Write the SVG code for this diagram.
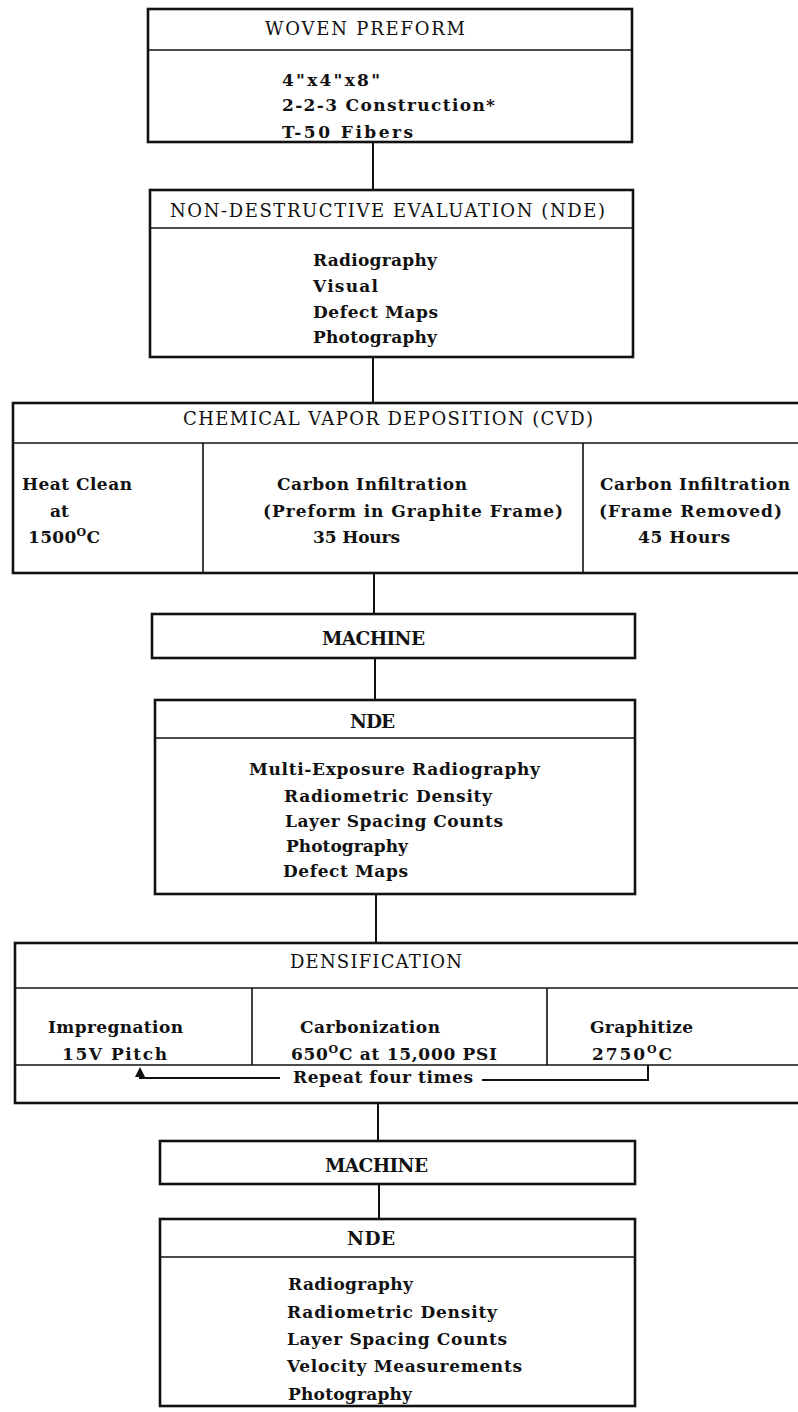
<svg xmlns="http://www.w3.org/2000/svg" width="798" height="1412" viewBox="0 0 798 1412">
<style>
.box{fill:none;stroke:#111;stroke-width:2.6}
.dv{stroke:#111;stroke-width:1.6;fill:none}
.cn{stroke:#111;stroke-width:2;fill:none}
text{font-family:"DejaVu Serif","Liberation Serif",serif;fill:#111}
.b{font-size:17px;font-weight:bold}
.h{font-size:18px;font-weight:normal}
.hb{font-size:18.5px;font-weight:bold}
</style>
<defs>
<marker id="up" viewBox="0 0 8 8" refX="4" refY="4" markerWidth="5" markerHeight="5" orient="auto">
<path d="M0,0 L8,4 L0,8 Z" fill="#111"/>
</marker>
</defs>
<rect width="798" height="1412" fill="#fff"/>

<g id="connectors">
<line class="cn" x1="373" y1="142" x2="373" y2="190"/>
<line class="cn" x1="373" y1="357" x2="373" y2="403"/>
<line class="cn" x1="374" y1="573" x2="374" y2="614"/>
<line class="cn" x1="375" y1="658" x2="375" y2="700"/>
<line class="cn" x1="376" y1="894" x2="376" y2="943"/>
<line class="cn" x1="378" y1="1103" x2="378" y2="1141"/>
<line class="cn" x1="379" y1="1184" x2="379" y2="1219"/>
</g>

<g id="woven-preform">
<rect class="box" x="148" y="9" width="484" height="133"/>
<line class="dv" x1="148" y1="50" x2="632" y2="50"/>
<text class="h" x="265" y="35" font-size="16" textLength="200">WOVEN PREFORM</text>
<text class="b" x="282" y="86" textLength="98">4"x4"x8"</text>
<text class="b" x="282" y="111" textLength="213">2-2-3 Construction*</text>
<text class="b" x="282" y="138" textLength="131">T-50 Fibers</text>
</g>

<g id="nde-1">
<rect class="box" x="150" y="190" width="483" height="167"/>
<line class="dv" x1="150" y1="228" x2="633" y2="228"/>
<text class="h" x="170" y="217" textLength="435">NON-DESTRUCTIVE EVALUATION (NDE)</text>
<text class="b" x="313" y="266" textLength="124">Radiography</text>
<text class="b" x="313" y="292" textLength="65">Visual</text>
<text class="b" x="313" y="318" textLength="125">Defect Maps</text>
<text class="b" x="313" y="343" textLength="124">Photography</text>
</g>

<g id="cvd">
<rect class="box" x="13" y="403" width="800" height="170"/>
<line class="dv" x1="13" y1="443" x2="813" y2="443"/>
<line class="dv" x1="203" y1="443" x2="203" y2="573"/>
<line class="dv" x1="583" y1="443" x2="583" y2="573"/>
<text class="h" x="183" y="425" textLength="410">CHEMICAL VAPOR DEPOSITION (CVD)</text>
<text class="b" x="22" y="490" textLength="110">Heat Clean</text>
<text class="b" x="50" y="517">at</text>
<text class="b" x="28" y="543" textLength="72">1500<tspan font-size="11" dy="-7">O</tspan><tspan dy="7">C</tspan></text>
<text class="b" x="277" y="490" textLength="190">Carbon Infiltration</text>
<text class="b" x="263" y="517" textLength="300">(Preform in Graphite Frame)</text>
<text class="b" x="313" y="543" textLength="87">35 Hours</text>
<text class="b" x="600" y="490" textLength="190">Carbon Infiltration</text>
<text class="b" x="599" y="517" textLength="183">(Frame Removed)</text>
<text class="b" x="638" y="543" textLength="92">45 Hours</text>
</g>

<g id="machine-1">
<rect class="box" x="152" y="614" width="483" height="44"/>
<text class="hb" x="322" y="645" textLength="103">MACHINE</text>
</g>

<g id="nde-2">
<rect class="box" x="155" y="700" width="480" height="194"/>
<line class="dv" x1="155" y1="738" x2="635" y2="738"/>
<text class="hb" x="350" y="728" textLength="45">NDE</text>
<text class="b" x="249" y="775" textLength="291">Multi-Exposure Radiography</text>
<text class="b" x="284" y="802" textLength="208">Radiometric Density</text>
<text class="b" x="285" y="827" textLength="218">Layer Spacing Counts</text>
<text class="b" x="286" y="852" textLength="122">Photography</text>
<text class="b" x="283" y="877" textLength="125">Defect Maps</text>
</g>

<g id="densification">
<rect class="box" x="15" y="943" width="800" height="160"/>
<line class="dv" x1="15" y1="988" x2="815" y2="988"/>
<line class="dv" x1="15" y1="1065" x2="815" y2="1065"/>
<line class="dv" x1="252" y1="988" x2="252" y2="1065"/>
<line class="dv" x1="547" y1="988" x2="547" y2="1065"/>
<text class="h" x="290" y="968" textLength="172">DENSIFICATION</text>
<text class="b" x="48" y="1033" textLength="135">Impregnation</text>
<text class="b" x="62" y="1060" textLength="105">15V Pitch</text>
<text class="b" x="300" y="1033" textLength="140">Carbonization</text>
<text class="b" x="291" y="1060" textLength="206">650<tspan font-size="11" dy="-7">O</tspan><tspan dy="7">C at 15,000 PSI</tspan></text>
<text class="b" x="590" y="1033" textLength="103">Graphitize</text>
<text class="b" x="592" y="1060" textLength="80">2750<tspan font-size="11" dy="-7">O</tspan><tspan dy="7">C</tspan></text>
<text class="b" x="293" y="1083" textLength="180">Repeat four times</text>
<path class="cn" d="M280,1078 H140 V1072" marker-end="url(#up)"/>
<path class="cn" d="M482,1080 H648 V1065"/>
</g>

<g id="machine-2">
<rect class="box" x="160" y="1141" width="475" height="43"/>
<text class="hb" x="325" y="1172" textLength="103">MACHINE</text>
</g>

<g id="nde-3">
<rect class="box" x="160" y="1219" width="475" height="187"/>
<line class="dv" x1="160" y1="1257" x2="635" y2="1257"/>
<text class="hb" x="347" y="1245" textLength="48">NDE</text>
<text class="b" x="288" y="1290" textLength="125">Radiography</text>
<text class="b" x="287" y="1318" textLength="210">Radiometric Density</text>
<text class="b" x="287" y="1345" textLength="220">Layer Spacing Counts</text>
<text class="b" x="287" y="1372" textLength="235">Velocity Measurements</text>
<text class="b" x="288" y="1400" textLength="124">Photography</text>
</g>
</svg>
